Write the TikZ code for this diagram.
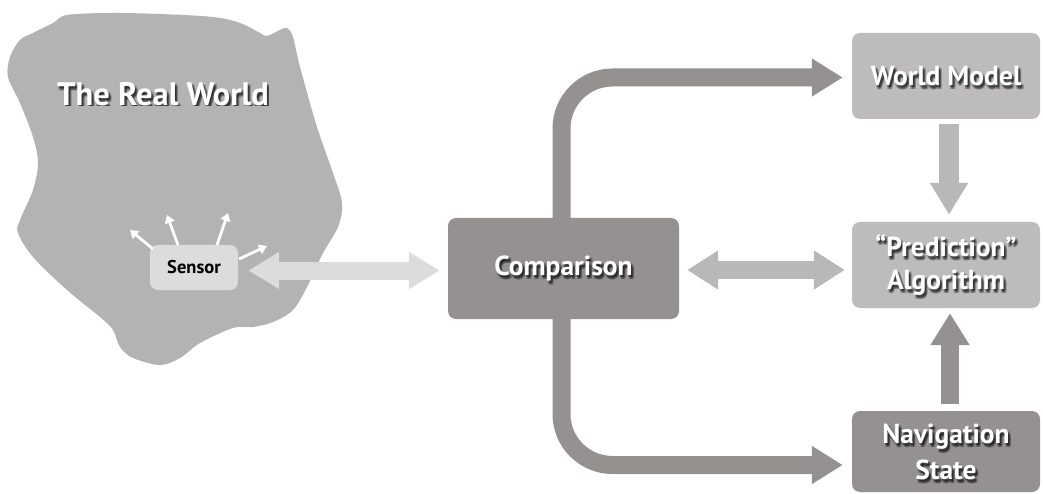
\documentclass[tikz,border=0pt]{standalone}
\usepackage{fontspec}
\setmainfont{PT Sans}
\usetikzlibrary{arrows.meta,calc}
\definecolor{darkg}{HTML}{959190}
\definecolor{lightbox}{HTML}{BDBBBB}
\definecolor{lightarr}{HTML}{B9B8B8}
\definecolor{sensorg}{HTML}{DCDCDC}
\definecolor{blobg}{HTML}{B3B3B3}
\newcommand\txtshadow[2]{%
  \foreach \dx/\dy in {1/2,3/2,1/4,3/4,2/3,2/2,2/4}
    \node[#1, text=black, opacity=0.16] at ([shift={(\dx,\dy)}]path picture bounding box.center) {#2};}
\tikzset{
  lbl/.style={font=\bfseries\fontsize{27.5}{33}\selectfont, align=center},
  navlbl/.style={font=\bfseries\fontsize{27.5}{36}\selectfont, align=center},
  titlelbl/.style={font=\bfseries\fontsize{32.5}{38}\selectfont},
  boxdark/.style={fill=darkg, rounded corners=8pt, inner sep=0pt, text=white},
  boxlight/.style={fill=lightbox, rounded corners=8pt, inner sep=0pt, text=white},
  bigdark/.style={draw=darkg, line width=18pt, -{Triangle[length=31pt,width=36pt]}},
  biglight/.style={draw=lightarr, line width=18pt},
  ray/.style={draw=white, line width=2.8pt, -{Triangle[length=8pt,width=10pt]}},
}
\begin{document}
\begin{tikzpicture}[x=1pt,y=-1pt]
\fill[white] (0,0) rectangle (1043,494);
\useasboundingbox (0,0) rectangle (1043,494);
% the real world blob
\fill[blobg] plot[smooth cycle, tension=0.55] coordinates {
 (53,23) (67,15) (110,13) (160,14) (213,17) (240,23) (260,33) (267,36) (280,30)
 (287,28) (293,37) (300,67) (317,127) (333,173) (342,203) (338,227) (323,253)
 (307,287) (293,310) (273,322) (253,327) (233,328) (200,343) (180,358) (160,365)
 (133,358) (120,347) (113,330) (100,317) (67,290) (33,257) (18,233) (20,220)
 (33,190) (38,163) (33,137) (20,103) (8,77) (10,57) (20,40) (33,33)};
\node[titlelbl, text=white, inner sep=0pt,
  path picture={\txtshadow{titlelbl, inner sep=0pt}{The Real World}}] (realworld) at (163,94) {The Real World};
% sensor
\node[fill=sensorg, rounded corners=8pt, minimum width=88pt, minimum height=45pt, inner sep=0pt,
  font=\bfseries\fontsize{18.5}{22}\selectfont] (sensor) at (194,267.5) {Sensor};
\coordinate (r1) at (130,230);
\coordinate (r2) at (167,215);
\coordinate (r3) at (228,213);
\coordinate (r4) at (267,246);
\draw[ray] (153,249) -- (r1);
\draw[ray] (178,245) -- (r2);
\draw[ray] (217,245) -- (r3);
\draw[ray] (239,259) -- (r4);
% boxes
\node[boxdark, lbl, minimum width=231pt, minimum height=101pt,
  path picture={\txtshadow{lbl}{Comparison}}] (comparison) at (563.5,268.5) {Comparison};
\node[boxlight, lbl, minimum width=188pt, minimum height=86pt,
  path picture={\txtshadow{lbl}{World Model}}] (worldmodel) at (946,76) {World Model};
\node[boxlight, lbl, minimum width=188pt, minimum height=86pt,
  path picture={\txtshadow{lbl}{“Prediction”\\Algorithm}}] (prediction) at (946,265) {“Prediction”\\Algorithm};
\node[boxdark, navlbl, minimum width=188pt, minimum height=81pt,
  path picture={\txtshadow{navlbl}{Navigation\\State}}] (nav) at (946,451.5) {Navigation\\State};
% connectors
\draw[draw=sensorg, line width=18pt, {Triangle[length=31pt,width=35pt]}-{Triangle[length=31pt,width=35pt]},
  shorten <=10pt, shorten >=8pt] ($(sensor.east)+(0,3)$) -- ($(sensor.east -| comparison.west)+(0,3)$);
\draw[biglight, {Triangle[length=31pt,width=37pt]}-{Triangle[length=31pt,width=37pt]},
  shorten <=8pt, shorten >=7pt] ($(comparison.east)+(0,1.5)$) -- ($(comparison.east -| prediction.west)+(0,1.5)$);
\draw[bigdark, rounded corners=51pt, shorten >=9pt] ($(comparison.north)+(-2,0)$) |- ($(worldmodel.west)+(0,1.5)$);
\draw[bigdark, rounded corners=51pt, shorten >=9pt] ($(comparison.south)+(-2,0)$) |- ($(nav.west)+(0,13.5)$);
\draw[biglight, line width=20pt, -{Triangle[length=32pt,width=36pt]}, shorten <=5pt, shorten >=7pt]
  ($(worldmodel.south)+(3,0)$) -- ($(prediction.north)+(3,0)$);
\draw[bigdark, -{Triangle[length=32pt,width=37pt]}, shorten <=7pt, shorten >=5pt]
  ($(nav.north)+(4,0)$) -- ($(prediction.south)+(4,0)$);
\end{tikzpicture}
\end{document}
